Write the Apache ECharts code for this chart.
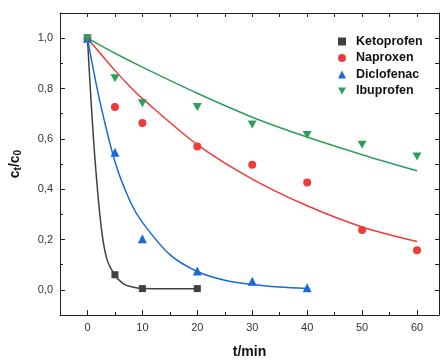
<!DOCTYPE html>
<html>
<head>
<meta charset="utf-8">
<script src="https://cdn.jsdelivr.net/npm/echarts@6/dist/echarts.min.js"></script>
<style>html,body{margin:0;padding:0;background:#fff;}#chart{width:441px;height:364px;}</style>
</head>
<body>
<div id="chart"></div>
<script>
// ---- data ----
var seriesNames = ['Ketoprofen', 'Naproxen', 'Diclofenac', 'Ibuprofen'];

// measured points
var ketoT = [0, 5, 10, 20];
var ketoV = [1.0, 0.06, 0.005, 0.005];
var naproT = [0, 5, 10, 20, 30, 40, 50, 60];
var naproV = [1.0, 0.726, 0.663, 0.570, 0.497, 0.426, 0.238, 0.157];
var dicloT = [0, 5, 10, 20, 30, 40];
var dicloV = [1.0, 0.547, 0.203, 0.075, 0.034, 0.008];
var ibuT = [0, 5, 10, 20, 30, 40, 50, 60];
var ibuV = [1.0, 0.841, 0.741, 0.726, 0.657, 0.615, 0.576, 0.530];

// fitted curves
var ketoFitT = [0, 0.6, 1.4, 2.5, 3.5, 5, 6.5, 8, 10, 15, 20];
var ketoFitV = [1.0, 0.77, 0.51, 0.25, 0.125, 0.058, 0.025, 0.012, 0.005, 0.004, 0.004];
var naproFitT = [0, 5, 7.8, 10, 20, 30, 40, 50, 60];
var naproFitV = [1.0, 0.872, 0.806, 0.76, 0.577, 0.440, 0.334, 0.250, 0.192];
var dicloFitT = [0, 2, 5, 7.8, 10, 15, 20, 25, 30, 35, 40];
var dicloFitV = [1.0, 0.775, 0.51, 0.35, 0.268, 0.14, 0.073, 0.038, 0.021, 0.011, 0.005];
var ibuFitT = [0, 5, 10, 20, 30, 40, 50, 60];
var ibuFitV = [1.0, 0.94, 0.885, 0.781, 0.686, 0.607, 0.537, 0.473];

var xMajor = [0, 10, 20, 30, 40, 50, 60];
var xMinor = [5, 15, 25, 35, 45, 55];
var yMajor = [0, 0.2, 0.4, 0.6, 0.8, 1.0];
var yMinor = [-0.1, 0.1, 0.3, 0.5, 0.7, 0.9];

var colors = ['#404040', '#EE3B3B', '#1A6AD6', '#2CA05A'];

function pairs(t, v) { return t.map(function (x, i) { return [x, v[i]]; }); }

var FONT = 'Liberation Sans, Arial, sans-serif';
var chart = echarts.init(document.getElementById('chart'), null, {renderer: 'canvas'});

var axisLineStyle = {color: '#222', width: 1};
var xBase = {type: 'value', min: -5, max: 64, splitLine: {show: false}, gridIndex: 0};
var yBase = {type: 'value', min: -0.1, max: 1.1, splitLine: {show: false}, gridIndex: 0};

var option = {
  animation: false,
  backgroundColor: '#fff',
  grid: {left: 57, right: 2, top: 13, bottom: 43, containLabel: false},
  xAxis: [
    Object.assign({}, xBase, {
      position: 'bottom',
      axisLine: {show: true, onZero: false, lineStyle: axisLineStyle},
      axisTick: {show: true, inside: true, length: 5, lineStyle: axisLineStyle, customValues: xMajor},
      axisLabel: {show: true, customValues: xMajor, margin: 7, fontFamily: FONT, fontSize: 11, color: '#333'},
      name: 't/min', nameLocation: 'middle', nameGap: 30,
      nameTextStyle: {fontFamily: FONT, fontSize: 14, fontWeight: 'bold', color: '#111'}
    }),
    Object.assign({}, xBase, {
      position: 'bottom',
      axisLine: {show: false, onZero: false},
      axisTick: {show: true, inside: true, length: 3, lineStyle: axisLineStyle, customValues: xMinor},
      axisLabel: {show: false}
    }),
    Object.assign({}, xBase, {
      position: 'top',
      axisLine: {show: true, onZero: false, lineStyle: axisLineStyle},
      axisTick: {show: true, inside: true, length: 4, lineStyle: axisLineStyle, customValues: xMajor.concat(xMinor)},
      axisLabel: {show: false}
    })
  ],
  yAxis: [
    Object.assign({}, yBase, {
      position: 'left',
      axisLine: {show: true, onZero: false, lineStyle: axisLineStyle},
      axisTick: {show: true, inside: true, length: 5, lineStyle: axisLineStyle, customValues: yMajor},
      axisLabel: {show: true, customValues: yMajor, margin: 7, fontFamily: FONT, fontSize: 11, color: '#333',
        formatter: function (v) { return v.toFixed(1).replace('.', ','); }},
      name: '{a|c}{s|t}{a|/c}{s|0}', nameLocation: 'middle', nameGap: 37, nameRotate: 90,
      nameTextStyle: {
        rich: {
          a: {fontFamily: FONT, fontSize: 14, fontWeight: 'bold', color: '#111'},
          s: {fontFamily: FONT, fontSize: 10, fontWeight: 'bold', color: '#111', verticalAlign: 'bottom', padding: [6, 0, 0, 0]}
        }
      }
    }),
    Object.assign({}, yBase, {
      position: 'left',
      axisLine: {show: false, onZero: false},
      axisTick: {show: true, inside: true, length: 3, lineStyle: axisLineStyle, customValues: yMinor},
      axisLabel: {show: false}
    }),
    Object.assign({}, yBase, {
      position: 'right',
      axisLine: {show: true, onZero: false, lineStyle: axisLineStyle},
      axisTick: {show: true, inside: true, length: 4, lineStyle: axisLineStyle, customValues: yMajor.concat(yMinor)},
      axisLabel: {show: false}
    })
  ],
  legend: {
    orient: 'vertical', left: 333, top: 30, itemWidth: 8, itemHeight: 8, itemGap: 3.5,
    data: seriesNames,
    textStyle: {fontFamily: FONT, fontSize: 12.5, fontWeight: 'bold', color: '#111', padding: [0, 0, 0, 5]}
  },
  series: [
    {name: 'Ketoprofen fit', type: 'line', smooth: 0.3, showSymbol: false, data: pairs(ketoFitT, ketoFitV),
      lineStyle: {color: colors[0], width: 1.5}, itemStyle: {color: colors[0]}, z: 2},
    {name: 'Naproxen fit', type: 'line', smooth: 0.3, showSymbol: false, data: pairs(naproFitT, naproFitV),
      lineStyle: {color: colors[1], width: 1.5}, itemStyle: {color: colors[1]}, z: 2},
    {name: 'Diclofenac fit', type: 'line', smooth: 0.3, showSymbol: false, data: pairs(dicloFitT, dicloFitV),
      lineStyle: {color: colors[2], width: 1.5}, itemStyle: {color: colors[2]}, z: 2},
    {name: 'Ibuprofen fit', type: 'line', smooth: 0.3, showSymbol: false, data: pairs(ibuFitT, ibuFitV),
      lineStyle: {color: colors[3], width: 1.5}, itemStyle: {color: colors[3]}, z: 2},
    {name: 'Ketoprofen', type: 'scatter', symbol: 'rect', symbolSize: 7, data: pairs(ketoT, ketoV),
      itemStyle: {color: colors[0], opacity: 1}, z: 3},
    {name: 'Naproxen', type: 'scatter', symbol: 'circle', symbolSize: 8, data: pairs(naproT, naproV),
      itemStyle: {color: colors[1], opacity: 1}, z: 3},
    {name: 'Diclofenac', type: 'scatter', symbol: 'triangle', symbolSize: 9, data: pairs(dicloT, dicloV),
      itemStyle: {color: colors[2], opacity: 1}, z: 3},
    {name: 'Ibuprofen', type: 'scatter', symbol: 'path://M0,0 L10,0 L5,8.66 Z', symbolSize: [9, 8], data: pairs(ibuT, ibuV),
      itemStyle: {color: colors[3], opacity: 1}, z: 4}
  ]
};
chart.setOption(option);
</script>
</body>
</html>
